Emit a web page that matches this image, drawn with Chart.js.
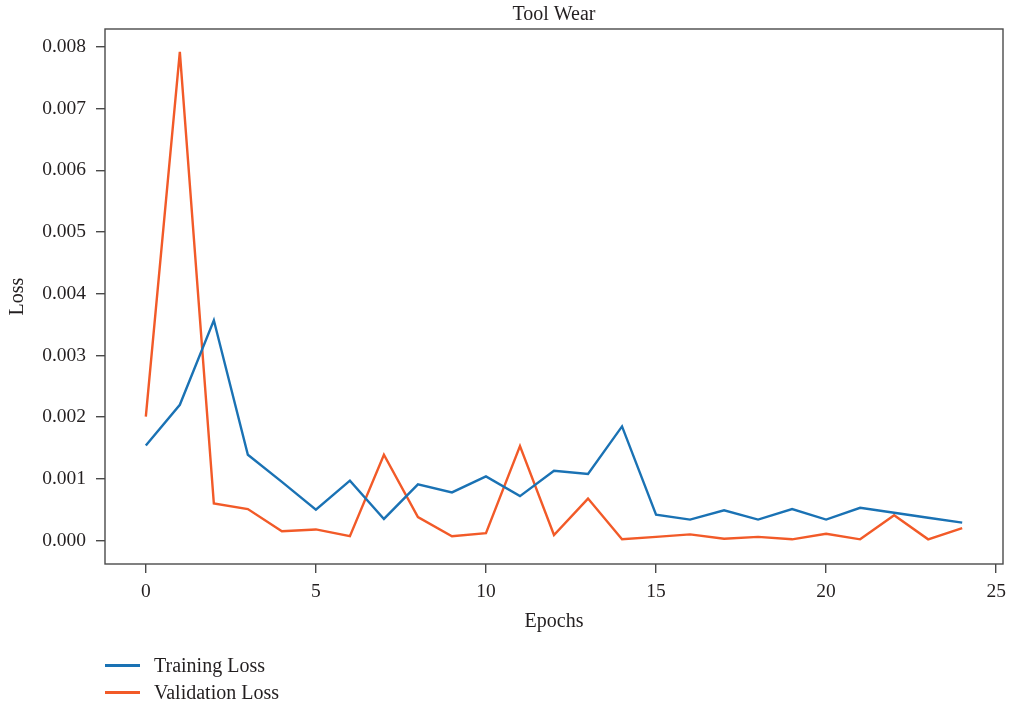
<!DOCTYPE html>
<html>
<head>
<meta charset="utf-8">
<title>Tool Wear</title>
<script src="https://cdn.jsdelivr.net/npm/chart.js@4.4.0/dist/chart.umd.min.js"></script>
<style>
  body { margin: 0; background: #fff; }
  #wrap { position: relative; width: 1009px; height: 705px; }
  #legend { position: absolute; left: 105px; top: 652px; font: 20px "Liberation Serif", serif; color: #231f20; }
  #legend .item { height: 27px; display: flex; align-items: center; }
  #legend .swatch { display: inline-block; width: 35px; height: 3px; margin-right: 14px; }
</style>
</head>
<body>
<div id="wrap">
  <canvas id="lossChart"></canvas>
  <div id="legend"></div>
</div>
<script>
// values
var epochs = [0, 1, 2, 3, 4, 5, 6, 7, 8, 9, 10, 11, 12, 13, 14, 15, 16, 17, 18, 19, 20, 21, 22, 23, 24];
var trainingLoss = [0.00154, 0.00220, 0.00357, 0.00139, 0.00095, 0.00050, 0.00097, 0.00035, 0.00091, 0.00078,
  0.00104, 0.00072, 0.00113, 0.00108, 0.00185, 0.00042, 0.00034, 0.00049, 0.00034, 0.00051,
  0.00034, 0.00053, 0.00045, 0.00037, 0.00029];
var validationLoss = [0.00201, 0.00792, 0.00060, 0.00051, 0.00015, 0.00018, 0.00007, 0.00139, 0.00038, 0.00007,
  0.00012, 0.00153, 0.00009, 0.00068, 0.00002, 0.00006, 0.00010, 0.00003, 0.00006, 0.00002,
  0.00011, 0.00002, 0.00041, 0.00002, 0.00020];
var xTicks = [0, 5, 10, 15, 20, 25];
var yTicks = [0, 0.001, 0.002, 0.003, 0.004, 0.005, 0.006, 0.007, 0.008];

var textColor = "#231f20";
var axisColor = "#4a4a4a";
var serif = "'Liberation Serif', 'Times New Roman', serif";

function toPoints(ys) {
  return ys.map((y, i) => ({ x: epochs[i], y: y }));
}

// box around the plot area, like the matplotlib frame
var frame = {
  id: "frame",
  afterDraw(chart) {
    var a = chart.chartArea;
    var ctx = chart.ctx;
    ctx.save();
    ctx.strokeStyle = axisColor;
    ctx.lineWidth = 1.4;
    ctx.strokeRect(a.left, a.top, a.right - a.left, a.bottom - a.top);
    ctx.restore();
  }
};

// legend stacked under the axes, built from the chart's own labels
var htmlLegend = {
  id: "htmlLegend",
  afterUpdate(chart) {
    var box = document.getElementById("legend");
    box.innerHTML = "";
    chart.options.plugins.legend.labels.generateLabels(chart).forEach((item) => {
      var row = document.createElement("div");
      row.className = "item";
      var sw = document.createElement("span");
      sw.className = "swatch";
      sw.style.background = item.strokeStyle;
      row.appendChild(sw);
      row.appendChild(document.createTextNode(item.text));
      box.appendChild(row);
    });
  }
};

var ctx = document.getElementById("lossChart").getContext("2d");
var myChart = new Chart(ctx, {
  type: "line",
  data: {
    datasets: [
      {
        label: "Training Loss",
        data: toPoints(trainingLoss),
        borderColor: "#1a72b4",
        backgroundColor: "#1a72b4",
        borderWidth: 2.4,
        pointRadius: 0,
        tension: 0,
      },
      {
        label: "Validation Loss",
        data: toPoints(validationLoss),
        borderColor: "#f25a28",
        backgroundColor: "#f25a28",
        borderWidth: 2.4,
        pointRadius: 0,
        tension: 0,
      },
    ],
  },
  options: {
    responsive: true,
    maintainAspectRatio: false,
    animation: false,
    layout: { padding: { left: 0, right: 6, top: 0, bottom: 71 } },
    plugins: {
      legend: { display: false },
      tooltip: { enabled: false },
      title: {
        display: true,
        fullSize: false,
        text: "Tool Wear",
        color: textColor,
        font: { family: serif, size: 20, weight: "normal" },
        padding: { top: 3, bottom: 2 },
      },
    },
    scales: {
      x: {
        type: "linear",
        min: -1.2,
        max: 25.2,
        afterBuildTicks: (s) => { s.ticks = xTicks.map((v) => ({ value: v })); },
        afterFit: (s) => { s.height = 70; s.paddingRight = 0; s.paddingLeft = 0; },
        grid: { drawOnChartArea: false, drawTicks: true, tickLength: 9, color: axisColor, lineWidth: 1.4 },
        border: { display: false },
        ticks: { color: textColor, padding: 7, font: { family: serif, size: 19.5 } },
        title: {
          display: true,
          text: "Epochs",
          color: textColor,
          font: { family: serif, size: 20 },
          padding: { top: 9, bottom: 0 },
        },
      },
      y: {
        min: -0.00038,
        max: 0.00829,
        afterBuildTicks: (s) => { s.ticks = yTicks.map((v) => ({ value: v })); },
        afterFit: (s) => { s.width = 105; },
        grid: { drawOnChartArea: false, drawTicks: true, tickLength: 9, color: axisColor, lineWidth: 1.4 },
        border: { display: false },
        ticks: {
          color: textColor,
          padding: 10,
          font: { family: serif, size: 19.5 },
          callback: (v) => v.toFixed(3),
        },
        title: {
          display: true,
          text: "Loss",
          color: textColor,
          font: { family: serif, size: 20 },
          padding: { top: 6, bottom: 0 },
        },
      },
    },
  },
  plugins: [frame, htmlLegend],
});
</script>
</body>
</html>
